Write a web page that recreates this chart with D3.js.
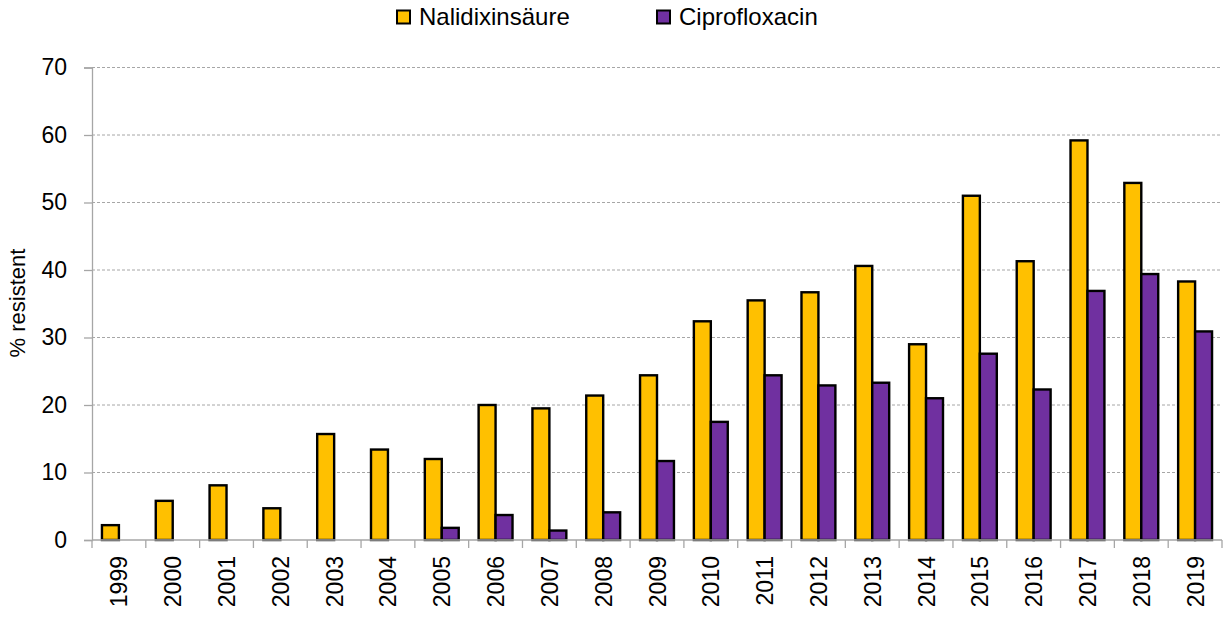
<!DOCTYPE html>
<html>
<head>
<meta charset="utf-8">
<script src="https://cdn.jsdelivr.net/npm/d3@7"></script>
<style>
  body { margin: 0; background: #fff; }
  text { font-family: "Liberation Sans", Arial, sans-serif; fill: #000; }
</style>
</head>
<body>
<div id="chart"></div>
<script>
// data
var years = ["1999","2000","2001","2002","2003","2004","2005","2006","2007","2008","2009",
             "2010","2011","2012","2013","2014","2015","2016","2017","2018","2019"];
var nalidixin = [2.2, 5.8, 8.1, 4.7, 15.7, 13.4, 12.0, 20.0, 19.5, 21.4, 24.4,
                 32.4, 35.5, 36.7, 40.6, 29.0, 51.0, 41.3, 59.2, 52.9, 38.3];
var cipro = [null, null, null, null, null, null, 1.8, 3.7, 1.4, 4.1, 11.7,
             17.5, 24.4, 22.9, 23.3, 21.0, 27.6, 22.3, 36.9, 39.4, 30.9];
var seriesNames = ["Nalidixinsäure", "Ciprofloxacin"];
var yTicks = [0, 10, 20, 30, 40, 50, 60, 70];

var colors = {"Nalidixinsäure": "#FFC000", "Ciprofloxacin": "#7030A0"};

var W = 1223, H = 617;
var margin = {top: 67.5, right: 1, bottom: 77, left: 92};
var width = W - margin.left - margin.right,
    height = H - margin.top - margin.bottom;

var svg = d3.select("#chart").append("svg")
    .attr("width", W).attr("height", H);

var g = svg.append("g")
    .attr("transform", "translate(" + margin.left + "," + margin.top + ")");

var x0 = d3.scaleBand().domain(years).range([0, width]).padding(0);
var bw = x0.bandwidth();
var x1 = d3.scaleBand().domain(seriesNames).range([bw * 0.185, bw * 0.815]).padding(0);
var y = d3.scaleLinear().domain([0, 70]).range([height, 0]);

// gridlines
g.selectAll(".grid")
  .data(yTicks.filter(function(d) { return d > 0; }))
  .enter().append("line")
    .attr("class", "grid")
    .attr("x1", 0).attr("x2", width)
    .attr("y1", function(d) { return y(d); })
    .attr("y2", function(d) { return y(d); })
    .attr("stroke", "#a6a6a6")
    .attr("stroke-width", 1)
    .attr("stroke-dasharray", "3,2");

// bars
var rows = years.map(function(yr, i) {
    return {year: yr, vals: [
        {key: "Nalidixinsäure", v: nalidixin[i]},
        {key: "Ciprofloxacin", v: cipro[i]}
    ]};
});

var groups = g.selectAll(".yr")
  .data(rows)
  .enter().append("g")
    .attr("transform", function(d) { return "translate(" + x0(d.year) + ",0)"; });

groups.selectAll("rect")
  .data(function(d) { return d.vals.filter(function(e) { return e.v != null; }); })
  .enter().append("rect")
    .attr("x", function(d) { return x1(d.key); })
    .attr("width", x1.bandwidth())
    .attr("y", function(d) { return y(d.v); })
    .attr("height", function(d) { return y(0) - y(d.v); })
    .attr("fill", function(d) { return colors[d.key]; })
    .attr("stroke", "#000")
    .attr("stroke-width", 2.4);

// y axis
var yAxis = g.append("g")
    .call(d3.axisLeft(y).tickValues(yTicks).tickSize(8).tickPadding(17));
yAxis.select(".domain").attr("stroke", "#a6a6a6").attr("stroke-width", 1.3);
yAxis.selectAll(".tick line").attr("stroke", "#a6a6a6").attr("stroke-width", 1.3);
yAxis.selectAll("text")
    .style("font-size", "23px")
    .attr("fill", "#222");

// x axis: ticks between categories
var xAxis = g.append("g").attr("transform", "translate(0," + height + ")");
xAxis.append("line")
    .attr("x1", 0).attr("x2", width)
    .attr("stroke", "#a6a6a6").attr("stroke-width", 1.3);
xAxis.selectAll(".xtick")
  .data(years.concat(["end"]))
  .enter().append("line")
    .attr("x1", function(d, i) { return i * bw; })
    .attr("x2", function(d, i) { return i * bw; })
    .attr("y1", 0).attr("y2", 8)
    .attr("stroke", "#a6a6a6").attr("stroke-width", 1.3);
xAxis.selectAll(".xlab")
  .data(years)
  .enter().append("text")
    .attr("transform", function(d) {
        return "translate(" + (x0(d) + bw / 2 + 8.5) + ",16) rotate(-90)";
    })
    .style("text-anchor", "end")
    .style("font-size", "23px")
    .attr("fill", "#222")
    .text(function(d) { return d; });

// y axis title
svg.append("text")
    .attr("transform", "translate(25,303) rotate(-90)")
    .style("text-anchor", "middle")
    .style("font-size", "22px")
    .text("% resistent");

// legend
var legendX = [397, 657];
var legend = svg.selectAll(".legend")
  .data(seriesNames)
  .enter().append("g")
    .attr("transform", function(d, i) { return "translate(" + legendX[i] + ",0)"; });
legend.append("rect")
    .attr("x", 0).attr("y", 10.5)
    .attr("width", 13).attr("height", 13)
    .attr("fill", function(d) { return colors[d]; })
    .attr("stroke", "#000").attr("stroke-width", 2);
legend.append("text")
    .attr("x", 22).attr("y", 25)
    .style("font-size", "24px")
    .attr("fill", "#222")
    .text(function(d) { return d; });
</script>
</body>
</html>
